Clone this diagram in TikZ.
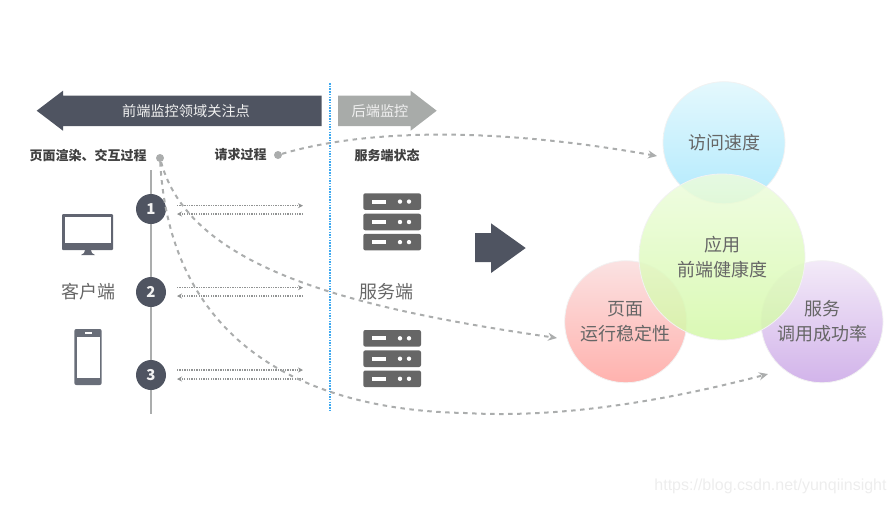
\documentclass[tikz,border=0pt]{standalone}
\usepackage{fontspec}
\setmainfont{Noto Sans CJK SC}
\newfontfamily\latinfont{Liberation Sans}
\usepackage{tikz}
\usetikzlibrary{arrows.meta, positioning}

\definecolor{slate}{HTML}{4F5461}
\definecolor{capgray}{HTML}{A8ABA9}
\definecolor{rackgray}{HTML}{666666}
\definecolor{flowgray}{HTML}{ABADAD}
\definecolor{labelgray}{HTML}{666666}
\definecolor{tierblue}{HTML}{3FA9F0}
\definecolor{speedtop}{HTML}{E4F8FD}
\definecolor{speedbot}{HTML}{B2EAFD}
\definecolor{stabletop}{HTML}{FBE2E2}
\definecolor{stablebot}{HTML}{FFB2AE}
\definecolor{successtop}{HTML}{F3EAF8}
\definecolor{successbot}{HTML}{D2B4EA}
\definecolor{healthtop}{HTML}{EDFCDD}
\definecolor{healthbot}{HTML}{D4F8A8}

\begin{document}
\begin{tikzpicture}[
            x=1pt, y=-1pt,
            bigtext/.style={font=\fontsize{18}{25}\selectfont, text=labelgray, align=center, inner sep=0pt},
            captext/.style={font=\fontsize{14.2}{16}\selectfont, text=white!88!gray, inner sep=0pt},
            headtext/.style={font=\fontsize{13}{15}\selectfont\bfseries, text=black!75, inner sep=0pt},
            numdot/.style={circle, fill=slate, minimum size=30pt, inner sep=0pt, text=white!90!gray, font=\fontsize{15}{15}\selectfont\bfseries},
            startdot/.style={circle, fill=flowgray, minimum size=8pt, inner sep=0pt},
            flow/.style={-{Stealth[length=9pt, width=8pt]}, flowgray, line width=2pt, dash pattern=on 4.5pt off 4.5pt},
            callarrow/.style={-{Stealth[length=5pt, width=5pt]}, flowgray!85!black, line width=1.3pt, dash pattern=on 1.3pt off 1.1pt},
            bubble/.style={circle, minimum size=122pt, inner sep=0pt, draw=white!90!gray, line width=.8pt, font=\fontsize{18}{25}\selectfont, text=labelgray, align=center}
        ]
            \useasboundingbox (0,0) rectangle (896,504);

            % header arrows
            \fill[slate] (36.7,110.7) -- (63,90.7) -- (63,95.7) -- (321.7,95.7) -- (321.7,126) -- (63,126) -- (63,130.7) -- cycle;
            \fill[capgray] (338,95.7) -- (410.7,95.7) -- (410.7,90.7) -- (436.7,110.7) -- (410.7,130.7) -- (410.7,126) -- (338,126) -- cycle;
            \node[captext] (fronthead) at (186,111) {前端监控领域关注点};
            \node[captext] (backhead) at (380,111) {后端监控};

            % boundary between client and server
            \coordinate (tiertop) at (330,83);
            \coordinate (tierbot) at (330,412);
            \draw[tierblue, line width=2pt, dash pattern=on 1.5pt off 1.2pt] (tiertop) -- (tierbot);

            % column heads
            \node[headtext] (renderhead) at (88,155) {页面渲染、交互过程};
            \node[headtext] (requesthead) at (240.7,155) {请求过程};
            \node[headtext] (statehead) at (387,155) {服务端状态};
            \node[startdot] (renderdot) at (160,158) {};
            \node[startdot] (requestdot) at (278,155) {};

            % timeline with numbered steps
            \coordinate (linetop) at (151,170);
            \coordinate (linebot) at (151,414);
            \draw[flowgray, line width=1.2pt] (linetop) -- (linebot);
            \foreach \i/\y/\up/\down in {1/209/205.7/214, 2/292/287.7/296, 3/375/370/379} {
                \node[numdot] (step\i) at (151,\y) {\i};
                \coordinate (upa\i) at (177,\up);
                \coordinate (upb\i) at (303,\up);
                \coordinate (downa\i) at (303,\down);
                \coordinate (downb\i) at (177,\down);
                \draw[callarrow] (upa\i) -- (upb\i);
                \draw[callarrow] (downa\i) -- (downb\i);
            }

            % monitor
            \fill[slate!90!white, rounded corners=1pt] (62,214) rectangle (113,250);
            \fill[white] (65,217) rectangle (110.5,243);
            \fill[slate!90!white] (85,250) -- (91,250) -- (92,253) -- (95,255) -- (81,255) -- (84,253) -- cycle;
            % phone
            \fill[slate!85!white, rounded corners=2pt] (74.3,329) rectangle (101.7,385);
            \fill[white] (76.7,336.5) rectangle (99.5,378);
            \fill[white] (84.5,331.8) rectangle (91.5,334);

            % server racks
            \foreach \top in {193.3, 330} {
                \foreach \row in {0, 20.4, 40.5} {
                    \fill[rackgray, rounded corners=2pt] (363.3,\top+\row) rectangle (421,\top+\row+16.6);
                    \fill[white] (371.7,\top+\row+6.3) rectangle (386,\top+\row+10.3);
                    \fill[white] (400,\top+\row+8.3) circle[radius=2.2];
                    \fill[white] (409,\top+\row+8.3) circle[radius=2.2];
                }
            }
            \node[bigtext] (clientlabel) at (88,292) {客户端};
            \node[bigtext] (serverlabel) at (386.7,292) {服务端};

            % result arrow
            \fill[slate] (475,233) -- (491,233) -- (491,223.3) -- (525.7,248) -- (491,273) -- (491,262) -- (475,262) -- cycle;

            % health bubbles
            \node[bubble, top color=speedtop, bottom color=speedbot] (speed) at (724,142.7) {访问速度};
            \node[bubble, top color=stabletop, bottom color=stablebot] (stable) at (625.7,321.7) {页面\\运行稳定性};
            \node[bubble, top color=successtop, bottom color=successbot] (success) at (822,321.7) {服务\\调用成功率};
            \node[bubble, minimum size=166pt, top color=healthtop, bottom color=healthbot, fill opacity=.85, text opacity=1] (health) at (722,257) {应用\\前端健康度};

            % flows into the bubbles
            \coordinate (speedin) at (657,156);
            \coordinate (stablein) at (557,338);
            \coordinate (lowpoint) at (465,413);
            \coordinate (successin) at (768,374);
            \draw[flow] (requestdot) .. controls (370,128) and (500,128) .. (speedin);
            \draw[flow] (renderdot) .. controls (190,268) and (350,308) .. (stablein);
            \draw[flow] (renderdot) .. controls (170,340) and (300,410) .. (lowpoint) .. controls (570,419) and (680,397) .. (successin);

            \node[font=\latinfont\fontsize{16}{18}\selectfont, text=black!7, inner sep=0pt] (watermark) at (770.5,486) {https://blog.csdn.net/yunqiinsight};
        \end{tikzpicture}
\end{document}
